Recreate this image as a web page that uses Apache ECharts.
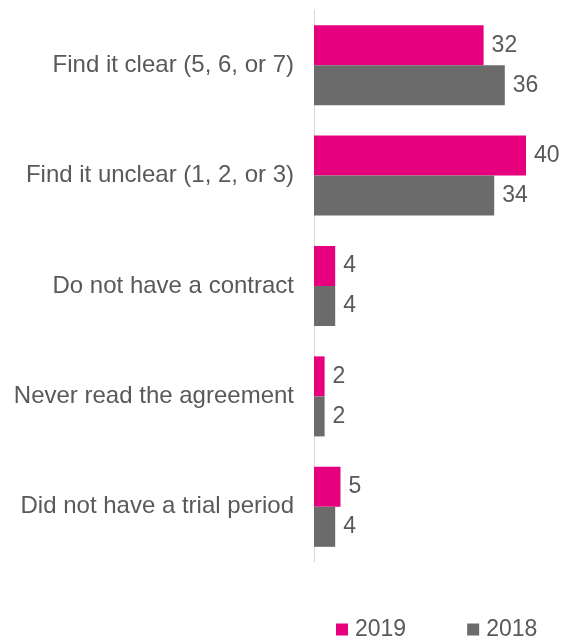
<!DOCTYPE html>
<html>
<head>
<meta charset="utf-8">
<style>
  html, body { margin: 0; padding: 0; background: #ffffff; }
  #chart { width: 561px; height: 641px; }
</style>
<script src="https://cdn.jsdelivr.net/npm/echarts@6/dist/echarts.min.js"></script>
</head>
<body>
<div id="chart"></div>
<script>
// Survey answers, listed top to bottom
const categories = [
  'Find it clear (5, 6, or 7)',
  'Find it unclear (1, 2, or 3)',
  'Do not have a contract',
  'Never read the agreement',
  'Did not have a trial period'
];
const values2019 = [32, 40, 4, 2, 5];
const values2018 = [36, 34, 4, 2, 4];
const seriesNames = ['2019', '2018'];

const textColor = '#595959';
const fontFamily = '"Liberation Sans", Arial, sans-serif';

const chart = echarts.init(document.getElementById('chart'), null, { renderer: 'canvas' });

const valueLabel = {
  show: true,
  position: 'right',
  distance: 8,
  color: textColor,
  fontSize: 23,
  fontFamily: fontFamily
};

chart.setOption({
  animation: false,
  grid: { left: 314, right: 35, top: 10, bottom: 79, containLabel: false },
  legend: {
    data: seriesNames,
    top: 618,
    left: 336,
    padding: 0,
    itemWidth: 12,
    itemHeight: 12,
    itemGap: 61,
    icon: 'rect',
    textStyle: { color: textColor, fontSize: 23, fontFamily: fontFamily, padding: [0, 0, 0, 2] }
  },
  xAxis: {
    type: 'value',
    min: 0,
    max: 40,
    show: false
  },
  yAxis: {
    type: 'category',
    data: categories,
    inverse: true,
    axisLine: { show: true, lineStyle: { color: '#d9d9d9', width: 1 } },
    axisTick: { show: false },
    axisLabel: {
      color: textColor,
      fontSize: 24,
      fontFamily: fontFamily,
      margin: 20
    }
  },
  series: [
    {
      name: seriesNames[0],
      type: 'bar',
      data: values2019,
      barCategoryGap: '27.5%',
      barGap: '0%',
      itemStyle: { color: '#e6007e' },
      label: valueLabel
    },
    {
      name: seriesNames[1],
      type: 'bar',
      data: values2018,
      barGap: '0%',
      itemStyle: { color: '#6b6b6b' },
      label: valueLabel
    }
  ]
});
</script>
</body>
</html>
